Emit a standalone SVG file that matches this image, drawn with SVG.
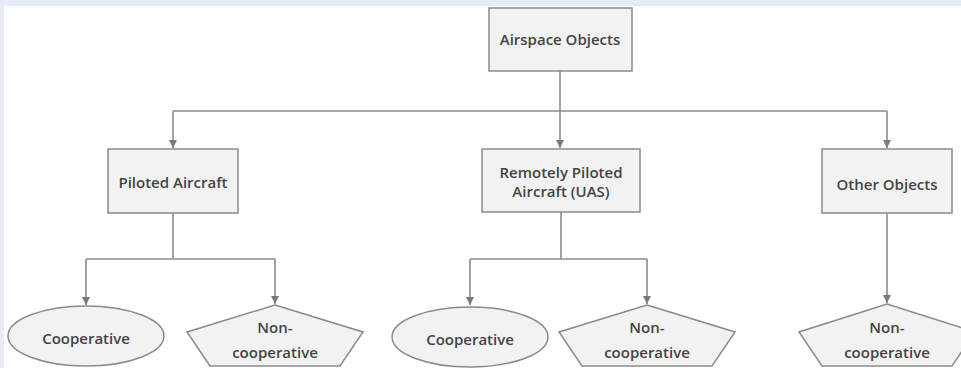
<svg xmlns="http://www.w3.org/2000/svg" width="961" height="368" viewBox="0 0 961 368">
<style>
.bx{fill:#f2f2f2;stroke:#8a8a8a;stroke-width:1.5}
.ln{fill:none;stroke:#8c8c8c;stroke-width:1.6}
.t{font-family:"Open Sans","Liberation Sans",sans-serif;font-size:15px;font-weight:600;fill:#444444;text-anchor:middle}
</style>
<defs>
<marker id="ah" viewBox="0 0 10 10" refX="10" refY="5" markerWidth="5" markerHeight="5" orient="auto" markerUnits="strokeWidth">
<path d="M0,0 L10,5 L0,10 z" fill="#7a7a7a"/>
</marker>
</defs>
<rect x="0" y="0" width="961" height="368" fill="#e5ecf8"/>
<rect x="4" y="6" width="957" height="362" fill="#ffffff"/>
<g id="connectors">
<path class="ln" d="M560,71 V148" marker-end="url(#ah)"/>
<path class="ln" d="M173,111 H887"/>
<path class="ln" d="M173,111 V148" marker-end="url(#ah)"/>
<path class="ln" d="M887,111 V148" marker-end="url(#ah)"/>
<path class="ln" d="M173,213 V259"/>
<path class="ln" d="M86,259 H275"/>
<path class="ln" d="M86,259 V305" marker-end="url(#ah)"/>
<path class="ln" d="M275,259 V304" marker-end="url(#ah)"/>
<path class="ln" d="M561,212 V259"/>
<path class="ln" d="M470,259 H647"/>
<path class="ln" d="M470,259 V305" marker-end="url(#ah)"/>
<path class="ln" d="M647,259 V304" marker-end="url(#ah)"/>
<path class="ln" d="M887,213 V303" marker-end="url(#ah)"/>
</g>
<g id="airspace">
<rect class="bx" x="489" y="8" width="143" height="63"/>
<text class="t" x="560" y="45">Airspace Objects</text>
</g>
<g id="piloted">
<rect class="bx" x="108" y="149" width="130" height="64"/>
<text class="t" x="173" y="188">Piloted Aircraft</text>
</g>
<g id="remote">
<rect class="bx" x="482" y="149" width="158" height="63"/>
<text class="t" x="561" y="178">Remotely Piloted</text>
<text class="t" x="561" y="197">Aircraft (UAS)</text>
</g>
<g id="other">
<rect class="bx" x="822" y="149" width="130" height="64"/>
<text class="t" x="887" y="190">Other Objects</text>
</g>
<g id="coop1">
<ellipse class="bx" cx="86" cy="336" rx="78" ry="30"/>
<text class="t" x="86" y="344">Cooperative</text>
</g>
<g id="noncoop1">
<polygon class="bx" points="275,305 363,332 340,366 210,366 187,332"/>
<text class="t" x="275" y="333">Non-</text>
<text class="t" x="275" y="358">cooperative</text>
</g>
<g id="coop2">
<ellipse class="bx" cx="470" cy="337" rx="78" ry="30"/>
<text class="t" x="470" y="345">Cooperative</text>
</g>
<g id="noncoop2">
<polygon class="bx" points="647,305 735,332 712,366 582,366 559,332"/>
<text class="t" x="647" y="333">Non-</text>
<text class="t" x="647" y="358">cooperative</text>
</g>
<g id="noncoop3">
<polygon class="bx" points="887,304 975,332 952,366 822,366 799,332"/>
<text class="t" x="887" y="333">Non-</text>
<text class="t" x="887" y="358">cooperative</text>
</g>
</svg>
